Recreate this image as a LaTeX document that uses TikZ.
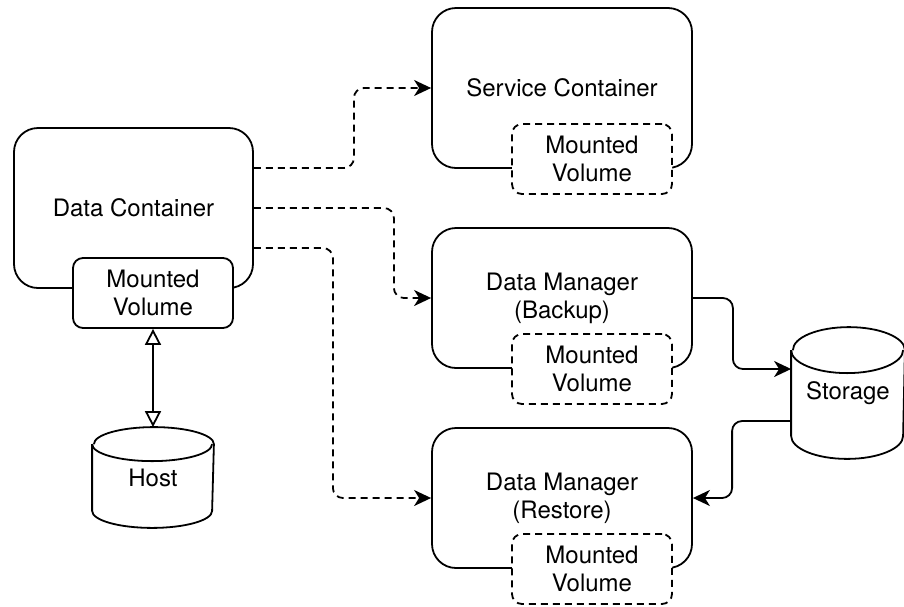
\documentclass[tikz,border=0pt]{standalone}
\usepackage{fontspec}
\setmainfont{TeX Gyre Heros}
\usetikzlibrary{arrows.meta}

\begin{document}
\begin{tikzpicture}[x=1pt, y=-1pt, line width=1.8pt, line join=round,
                    >={Stealth[length=17pt,width=16pt,inset=5pt]},
                    font=\fontsize{24}{28}\selectfont,
                    box/.style={draw, rounded corners=24pt, align=center,
                                inner sep=0pt, minimum width=260pt},
                    volbox/.style={draw, fill=white, rounded corners=10pt,
                                   align=center, inner sep=0pt,
                                   minimum width=160pt, minimum height=70pt},
                    dashline/.style={dash pattern=on 7pt off 5pt},
                    link/.style={rounded corners=10pt},
                    hollow/.tip={Triangle[open,length=16pt,width=16pt]}
                   ]
\useasboundingbox (0,0) rectangle (904,606);

% containers
\node [box, minimum width=239pt, minimum height=160pt] (dc) at (133.5,208)
      {Data Container};
\node [volbox] (dcmv) at (153,293) {Mounted\\Volume};

\node [box, minimum height=160pt] (svc) at (562,88) {Service Container};
\node [box, minimum height=140pt] (bak) at (562,298) {Data Manager\\(Backup)};
\node [box, minimum height=140pt] (rst) at (562,498) {Data Manager\\(Restore)};

\foreach \m/\y in {svcmv/159, bakmv/369, rstmv/569}
    \node [volbox, dashline] (\m) at (592,\y) {Mounted\\Volume};

% stores
\node [minimum width=120pt, minimum height=99pt, inner sep=0pt] (host)
      at (153,477.5) {Host};
\node [minimum width=112pt, minimum height=130pt, inner sep=0pt] (stor)
      at (848,393) {Storage};

\foreach \c/\rx/\ry in {host/60/17, stor/56/23}{
    \draw ([yshift=-\ry pt]\c.north west) -- ([yshift=\ry pt]\c.south west)
        arc [start angle=180, end angle=360, x radius=\rx pt, y radius=\ry pt]
        -- ([yshift=-\ry pt]\c.north east)
        arc [start angle=0, end angle=180, x radius=\rx pt, y radius=\ry pt];
    \draw ([yshift=-\ry pt]\c.north west)
        arc [start angle=180, end angle=360, x radius=\rx pt, y radius=\ry pt];
}

% links
\draw [link, dashline, ->] ([yshift=40pt]dc.east) -- ++(100,0) |- (svc.west);
\draw [link, dashline, ->] (dc.east) -- ++(140,0) |- (bak.west);
\draw [link, dashline, ->] ([yshift=-40pt]dc.east) -- ++(79,0) |- (rst.west);

\draw [link, ->] (bak.east) -- ++(40,0) |- ([yshift=24pt]stor.west);
\draw [link, ->] ([yshift=-28pt]stor.west) -- ++(-59,0) |- (rst.east);

\draw [hollow-hollow] (dcmv.south) -- (host.north);
\end{tikzpicture}
\end{document}
